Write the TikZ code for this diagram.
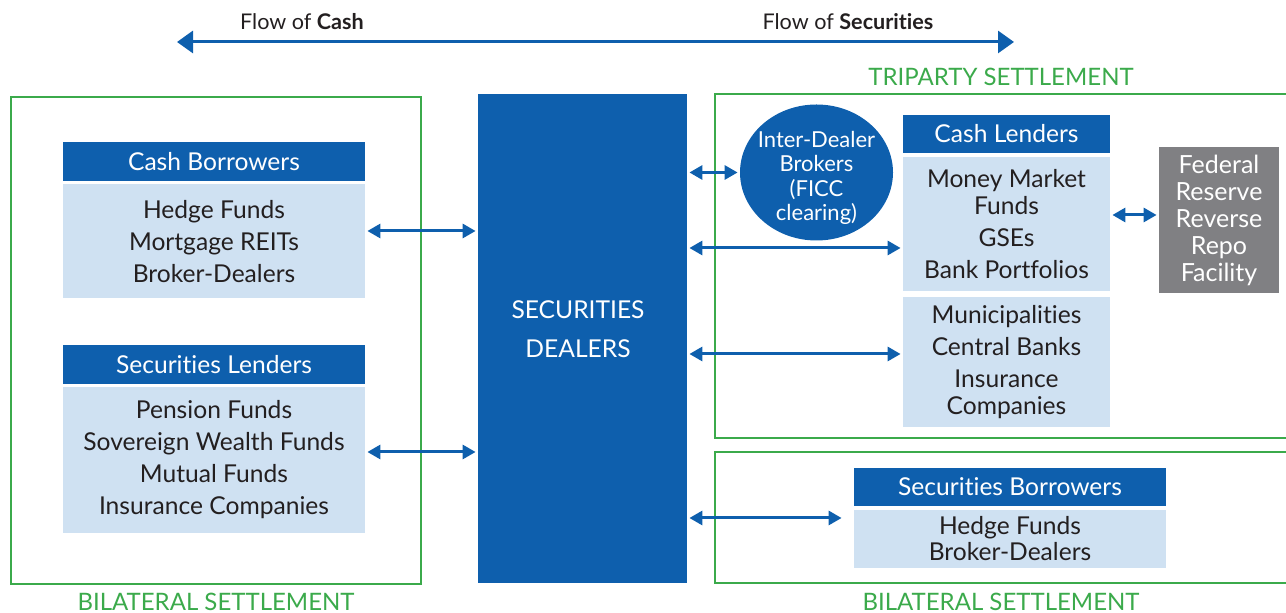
\documentclass[tikz,border=0pt]{standalone}
\usepackage{fontspec}
\setmainfont{Lato}[Ligatures={NoCommon,NoRequired,NoContextual}]
\usetikzlibrary{shapes,arrows.meta,positioning}

\definecolor{dealerblue}{HTML}{0E5FAD}
\definecolor{paleblue}{HTML}{CFE1F2}
\definecolor{settlegreen}{HTML}{3BAA4B}
\definecolor{fedgray}{HTML}{808083}
\definecolor{inkgray}{HTML}{231F20}

\tikzset{
  hdr/.style={fill=dealerblue, text=white, inner sep=0pt, minimum height=19.5pt,
    font=\fontsize{12.3}{13}\selectfont},
  lst/.style={fill=paleblue, text=inkgray, inner sep=0pt, align=center,
    font=\fontsize{12.3}{16}\selectfont},
  zone/.style={draw=settlegreen, line width=1.25pt},
  zonelbl/.style={text=settlegreen, font=\fontsize{12}{13}\selectfont},
  whitetxt/.style={text=white, align=center, inner sep=0pt},
  flow/.style={draw=dealerblue, line width=1.5pt,
    {Triangle[length=6.5pt,width=7pt]}-{Triangle[length=6.5pt,width=7pt]},
    shorten <=1pt, shorten >=1pt},
  bigflow/.style={draw=dealerblue, line width=1.5pt,
    {Triangle[length=8pt,width=11pt]}-{Triangle[length=8pt,width=11pt]}}
}

\begin{document}
\begin{tikzpicture}[x=0.5pt, y=-0.5pt]
  \useasboundingbox (0,0) rectangle (1286,613);

  % direction of flows
  \coordinate (cashend) at (177,42);
  \coordinate (secend) at (1014,42);
  \draw[bigflow] (cashend) -- (secend);
  \node[text=inkgray, font=\fontsize{10.8}{12}\selectfont] (cashlbl) at (302,22) {Flow of \textbf{Cash}};
  \node[text=inkgray, font=\fontsize{10.8}{12}\selectfont] (seclbl) at (848,22) {Flow of \textbf{Securities}};

  % settlement frames
  \draw[zone] (11,97) rectangle (421,584);
  \draw[zone] (715,94) rectangle (1300,438);
  \draw[zone] (715,452) rectangle (1300,583);
  \node[zonelbl] (bilatleft) at (216,602) {BILATERAL SETTLEMENT};
  \node[zonelbl] (triparty) at (1001,77) {TRIPARTY SETTLEMENT};
  \node[zonelbl] (bilatright) at (1001,602) {BILATERAL SETTLEMENT};

  % dealers
  \node[fill=dealerblue, minimum width=104.5pt, minimum height=244.5pt, inner sep=0pt] (dealers) at (582.5,338.5) {};
  \node[whitetxt, font=\fontsize{12.3}{19.5}\selectfont] (dealerstxt) at (578,329.5) {SECURITIES\\DEALERS};

  % left side
  \node[hdr, minimum width=151pt] (cbhdr) at (214,161.5) {Cash Borrowers};
  \node[lst, minimum width=151pt, minimum height=57pt] (cbbody) at (214,241.5)
    {Hedge Funds\\Mortgage REITs\\Broker-Dealers};
  \node[hdr, minimum width=151pt] (slhdr) at (214,364.5) {Securities Lenders};
  \node[lst, minimum width=151pt, minimum height=73pt] (slbody) at (214,460)
    {Pension Funds\\Sovereign Wealth Funds\\Mutual Funds\\Insurance Companies};

  % right side
  \node[ellipse, fill=dealerblue, minimum width=76.5pt, minimum height=68pt, inner sep=0pt] (idb) at (816.5,172.5) {};
  \node[whitetxt, font=\fontsize{11}{12.3}\selectfont] (idbtxt) at (816.5,178) {Inter-Dealer\\Brokers\\(FICC\\clearing)};
  \node[hdr, minimum width=103.5pt, minimum height=19pt] (clhdr) at (1006.5,134) {Cash Lenders};
  \node[lst, minimum width=103.5pt, minimum height=67pt] (clbody) at (1006.5,224)
    {Money Market\\[-2.5pt]Funds\\GSEs\\Bank Portfolios};
  \node[lst, minimum width=103.5pt, minimum height=65pt] (mcbody) at (1006.5,362)
    {Municipalities\\Central Banks\\Insurance\\[-2.5pt]Companies};
  \node[fill=fedgray, whitetxt, minimum width=60pt, minimum height=73pt,
    font=\fontsize{12.5}{13.5}\selectfont] (fed) at (1219,220)
    {Federal\\Reserve\\Reverse\\Repo\\Facility};
  \node[hdr, minimum width=156pt, minimum height=19pt] (sbhdr) at (1010,487) {Securities Borrowers};
  \node[lst, minimum width=156pt, minimum height=29pt, font=\fontsize{12.3}{13}\selectfont] (sbbody) at (1010,539)
    {Hedge Funds\\Broker-Dealers};

  % connectors
  \draw[flow] (cbbody.east |- 0,231) -- (dealers.west |- 0,231);
  \draw[flow] (slbody.east |- 0,452) -- (dealers.west |- 0,452);
  \draw[flow] (dealers.east |- idb.west) -- (idb.west);
  \draw[flow] (dealers.east |- 0,248) -- (clbody.west |- 0,248);
  \draw[flow] (dealers.east |- 0,354) -- (mcbody.west |- 0,354);
  \draw[flow] (dealers.east |- 0,518) -- ([xshift=-5pt]sbbody.west |- 0,518);
  \draw[flow] (clbody.east |- 0,215) -- (fed.west |- 0,215);
\end{tikzpicture}
\end{document}
